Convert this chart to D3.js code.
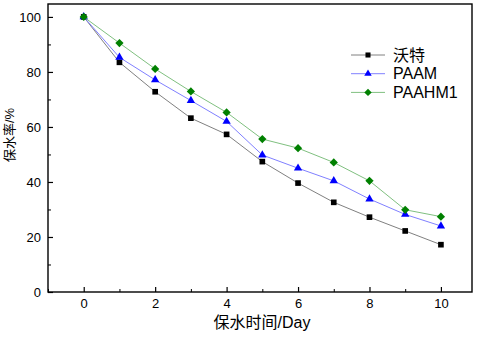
<!DOCTYPE html>
<html lang="zh">
<head>
<meta charset="UTF-8">
<title>保水率</title>
<script src="https://d3js.org/d3.v7.min.js"></script>
<style>
  body { margin: 0; background: #fff; }
  svg { display: block; font-family: "Liberation Sans", Arial, sans-serif; }
  .axis text { font-size: 13px; fill: #000; font-family: "Liberation Sans", Arial, sans-serif; }
</style>
</head>
<body>
<script>
const days = [0, 1, 2, 3, 4, 5, 6, 7, 8, 9, 10];
const woteValues = [100, 83.5, 72.8, 63.2, 57.3, 47.4, 39.6, 32.6, 27.2, 22.2, 17.2];
const paamValues = [100, 85.3, 77.1, 69.6, 62.0, 49.8, 45.0, 40.4, 33.8, 28.2, 24.0];
const paahmValues = [100, 90.5, 81.1, 72.9, 65.3, 55.6, 52.3, 47.1, 40.4, 29.9, 27.4];
const seriesNames = ["沃特", "PAAM", "PAAHM1"];
const xTicks = [0, 2, 4, 6, 8, 10];
const yTicks = [0, 20, 40, 60, 80, 100];

const W = 481, H = 337;
const plot = {left: 48, top: 4, right: 472, bottom: 292};

const svg = d3.select("body").append("svg")
  .attr("width", W).attr("height", H);

const x = d3.scaleLinear().domain([-1, 10.87]).range([plot.left, plot.right]);
const y = d3.scaleLinear().domain([0, 104.7]).range([plot.bottom, plot.top]);

// diamond drawn as a rotated square, like the original
const diamond = {
  draw(ctx, size) {
    const r = Math.sqrt(size / 2);
    ctx.moveTo(0, -r); ctx.lineTo(r, 0); ctx.lineTo(0, r); ctx.lineTo(-r, 0); ctx.closePath();
  }
};

const series = [
  {name: seriesNames[0], values: woteValues, line: "#808080", fill: "#000000", symbol: d3.symbolSquare, size: 32},
  {name: seriesNames[1], values: paamValues, line: "#8080ff", fill: "#0000ff", symbol: d3.symbolTriangle, size: 30},
  {name: seriesNames[2], values: paahmValues, line: "#80c080", fill: "#008000", symbol: diamond, size: 34}
];

// minor ticks
const xMinor = d3.range(-1, 11, 1).filter(d => d % 2 !== 0);
const yMinor = d3.range(10, 101, 20);

svg.append("g")
  .attr("class", "axis")
  .attr("transform", "translate(0," + plot.bottom + ")")
  .call(d3.axisBottom(x).tickValues(xTicks).tickSize(-5).tickPadding(7).tickFormat(d3.format("d")))
  .call(g => g.select(".domain").remove())
  .call(g => g.selectAll(".tick line").attr("stroke-width", 1.2));

svg.append("g")
  .attr("transform", "translate(0," + plot.bottom + ")")
  .call(d3.axisBottom(x).tickValues(xMinor).tickSize(-3).tickFormat(""))
  .call(g => g.select(".domain").remove());

svg.append("g")
  .attr("class", "axis")
  .attr("transform", "translate(" + plot.left + ",0)")
  .call(d3.axisLeft(y).tickValues(yTicks).tickSize(-5).tickPadding(7))
  .call(g => g.select(".domain").remove())
  .call(g => g.selectAll(".tick line").attr("stroke-width", 1.2));

svg.append("g")
  .attr("transform", "translate(" + plot.left + ",0)")
  .call(d3.axisLeft(y).tickValues(yMinor).tickSize(-3).tickFormat(""))
  .call(g => g.select(".domain").remove());

svg.append("rect")
  .attr("x", plot.left).attr("y", plot.top)
  .attr("width", plot.right - plot.left).attr("height", plot.bottom - plot.top)
  .attr("fill", "none").attr("stroke", "#000").attr("stroke-width", 1.4);

const line = d3.line()
  .x((d, i) => x(days[i]))
  .y(d => y(d));

series.forEach(s => {
  svg.append("path")
    .datum(s.values)
    .attr("fill", "none")
    .attr("stroke", s.line)
    .attr("stroke-width", 1)
    .attr("d", line);
  svg.selectAll(null)
    .data(s.values)
    .enter().append("path")
    .attr("transform", (d, i) => "translate(" + x(days[i]) + "," + y(d) + ")")
    .attr("d", d3.symbol().type(s.symbol).size(s.size))
    .attr("fill", s.fill);
});

// legend
const legend = svg.append("g").attr("transform", "translate(351,55)");
series.forEach((s, i) => {
  const g = legend.append("g").attr("transform", "translate(0," + (i * 18.7) + ")");
  g.append("line").attr("x1", 0).attr("x2", 34).attr("y1", 0).attr("y2", 0)
    .attr("stroke", s.line).attr("stroke-width", 1);
  g.append("path").attr("transform", "translate(17,0)")
    .attr("d", d3.symbol().type(s.symbol).size(s.size * 0.8)).attr("fill", s.fill);
  g.append("text").attr("x", 42).attr("y", 0).attr("dy", "0.36em")
    .style("font-size", "16px").attr("fill", "#000")
    .style("font-family", i === 0 ? "'Noto Sans CJK SC', sans-serif" : "'Liberation Sans', Arial, sans-serif")
    .text(s.name);
});

svg.append("text")
  .attr("x", 262).attr("y", 328)
  .attr("text-anchor", "middle")
  .style("font-size", "16px")
  .style("font-family", "'Liberation Sans', 'Noto Sans CJK SC', sans-serif")
  .text("保水时间/Day");

svg.append("text")
  .attr("transform", "translate(14,135) rotate(-90)")
  .attr("text-anchor", "middle")
  .style("font-size", "13px")
  .style("font-family", "'Liberation Sans', 'Noto Sans CJK SC', sans-serif")
  .text("保水率/%");
</script>
</body>
</html>
